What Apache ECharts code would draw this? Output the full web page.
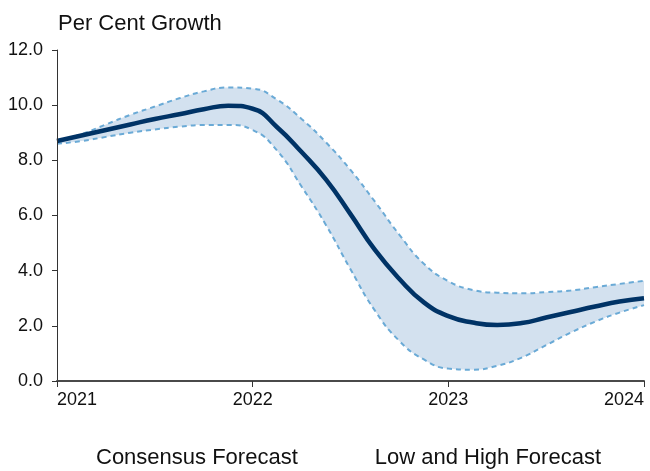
<!DOCTYPE html>
<html>
<head>
<meta charset="utf-8">
<script src="https://cdn.jsdelivr.net/npm/echarts@6/dist/echarts.min.js"></script>
<style>html,body{margin:0;padding:0;background:#fff;}#c{width:650px;height:471px;}</style>
</head>
<body>
<div id="c"></div>
<script>
const years = [2021, 2021.125, 2021.25, 2021.375, 2021.5, 2021.625, 2021.75, 2021.875,
  2022, 2022.125, 2022.25, 2022.375, 2022.5, 2022.625, 2022.75, 2022.875,
  2023, 2023.125, 2023.25, 2023.375, 2023.5, 2023.625, 2023.75, 2023.875, 2024];
const consensus = [8.7, 8.9, 9.1, 9.3, 9.5, 9.67, 9.85, 9.98,
  9.87, 9.2, 8.3, 7.3, 6.05, 4.75, 3.7, 2.85,
  2.35, 2.12, 2.03, 2.1, 2.3, 2.5, 2.7, 2.88, 3.0];
const high = [8.7, 8.95, 9.3, 9.65, 9.95, 10.25, 10.5, 10.64,
  10.6, 10.2, 9.5, 8.65, 7.65, 6.5, 5.3, 4.25,
  3.62, 3.3, 3.2, 3.18, 3.22, 3.28, 3.4, 3.52, 3.63];
const low = [8.6, 8.7, 8.85, 9.0, 9.12, 9.22, 9.28, 9.28,
  9.1, 8.35, 7.05, 5.65, 4.05, 2.55, 1.45, 0.78,
  0.45, 0.41, 0.55, 0.85, 1.3, 1.75, 2.15, 2.48, 2.75];
const yTicks = [0, 2, 4, 6, 8, 10, 12];
const xTicks = [2021, 2022, 2023, 2024];
const titleText = 'Per Cent Growth';
const seriesNames = ['Consensus Forecast', 'Low and High Forecast'];

const FONT = "'Liberation Sans', Arial, sans-serif";
const chart = echarts.init(document.getElementById('c'), null, {renderer: 'canvas'});
const pair = (arr) => years.map((x, i) => [x, arr[i]]);
const dashColor = '#6aaad6';
const bandColor = '#d3e1ef';

chart.setOption({
  animation: false,
  backgroundColor: '#fff',
  title: {
    text: titleText, left: 53, top: 8,
    textStyle: {fontFamily: FONT, fontSize: 22, fontWeight: 'normal', color: '#111'}
  },
  legend: {
    data: seriesNames.map(n => ({name: n, icon: 'none'})),
    left: 86, top: 442, itemWidth: 0, itemHeight: 0, itemGap: 72,
    textStyle: {fontFamily: FONT, fontSize: 22, color: '#111'},
    selectedMode: false
  },
  grid: {left: 57, right: 6, top: 50, bottom: 90, containLabel: false},
  xAxis: {
    type: 'value', min: xTicks[0], max: xTicks[xTicks.length - 1], interval: 1, z: 10,
    axisLine: {show: true, lineStyle: {color: '#4a4a4a', width: 2}},
    axisTick: {show: true, inside: false, length: 6, lineStyle: {color: '#333', width: 1}},
    splitLine: {show: false},
    axisLabel: {
      fontFamily: FONT, fontSize: 18, color: '#111', margin: 10,
      alignMinLabel: 'left', alignMaxLabel: 'right',
      formatter: v => String(Math.round(v))
    }
  },
  yAxis: {
    type: 'value', min: yTicks[0], max: yTicks[yTicks.length - 1], interval: 2, z: 10,
    axisLine: {show: true, lineStyle: {color: '#333', width: 1}},
    axisTick: {show: true, inside: false, length: 5, lineStyle: {color: '#333', width: 1}},
    splitLine: {show: false},
    axisLabel: {
      fontFamily: FONT, fontSize: 18, color: '#111', margin: 14,
      formatter: v => v.toFixed(1)
    }
  },
  series: [
    {
      name: seriesNames[1], type: 'line', data: pair(high), smooth: true,
      symbol: 'none', z: 2, silent: true,
      itemStyle: {color: bandColor},
      lineStyle: {color: dashColor, width: 2, type: [5, 4]},
      areaStyle: {color: bandColor, opacity: 1, origin: 'start'}
    },
    {
      name: 'low', type: 'line', data: pair(low), smooth: true,
      symbol: 'none', z: 3, silent: true,
      lineStyle: {color: dashColor, width: 2, type: [5, 4]},
      areaStyle: {color: '#ffffff', opacity: 1, origin: 'start'}
    },
    {
      name: seriesNames[0], type: 'line', data: pair(consensus), smooth: true,
      symbol: 'none', z: 4,
      itemStyle: {color: '#003366'},
      lineStyle: {color: '#003366', width: 4.5}
    }
  ]
});
</script>
</body>
</html>
